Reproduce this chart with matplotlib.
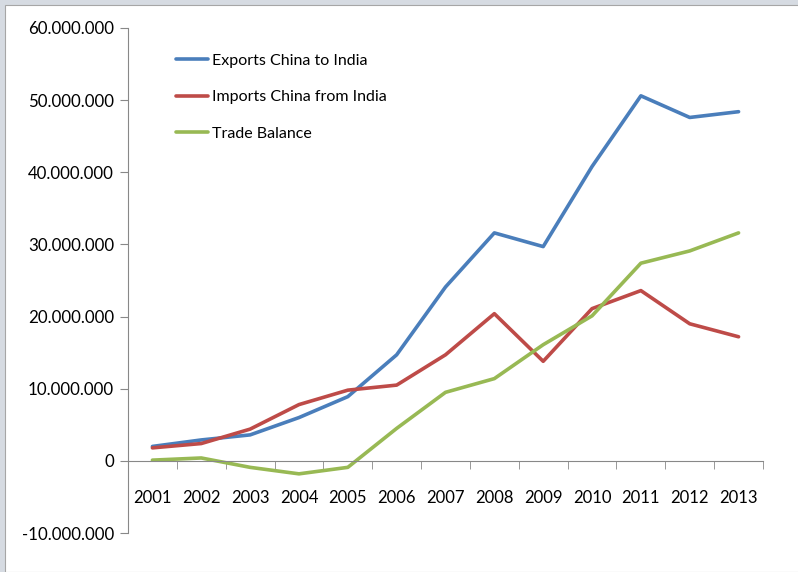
import matplotlib
matplotlib.use("Agg")
import matplotlib.pyplot as plt
from matplotlib.patches import Rectangle
from matplotlib.ticker import FixedLocator, FuncFormatter

plt.rcParams['font.family'] = ['Lato', 'DejaVu Sans']

# data (in thousands of USD)
years = ['2001', '2002', '2003', '2004', '2005', '2006', '2007',
         '2008', '2009', '2010', '2011', '2012', '2013']
exports = [2.0e6, 2.9e6, 3.6e6, 6.0e6, 8.9e6, 14.7e6, 24.1e6,
           31.6e6, 29.7e6, 40.8e6, 50.6e6, 47.6e6, 48.4e6]
imports = [1.8e6, 2.4e6, 4.4e6, 7.8e6, 9.8e6, 10.5e6, 14.7e6,
           20.4e6, 13.8e6, 21.1e6, 23.6e6, 19.0e6, 17.2e6]
balance = [0.1e6, 0.4e6, -0.9e6, -1.8e6, -0.9e6, 4.5e6, 9.5e6,
           11.4e6, 16.1e6, 20.1e6, 27.4e6, 29.1e6, 31.6e6]
series_names = ['Exports China to India', 'Imports China from India', 'Trade Balance']
colors = ['#4A7EBB', '#BE4B48', '#98B954']

fig = plt.figure(figsize=(7.98, 5.72), dpi=100, facecolor='#d6dbe2')
# white chart area with a thin frame
fig.patches.append(Rectangle((5 / 798, 0), 1, 1 - 5 / 572, transform=fig.transFigure,
                             facecolor='white', edgecolor='#a6a6a6', linewidth=0.8,
                             zorder=-10))

ax = fig.add_axes([128 / 798, 1 - 533 / 572, (763 - 128) / 798, (533 - 28) / 572])
ax.set_facecolor('none')
ax.set_zorder(5)

x = list(range(len(years)))
for vals, name, c in zip([exports, imports, balance], series_names, colors):
    ax.plot(x, vals, color=c, linewidth=2.6, label=name, solid_capstyle='round')

ax.set_xlim(-0.5, len(years) - 0.5)
ax.set_ylim(-10e6, 60e6)
ax.set_yticks([i * 10e6 for i in range(-1, 7)])
ax.yaxis.set_major_formatter(FuncFormatter(lambda v, p: f"{int(v):,}".replace(',', '.')))

for s in ['top', 'right']:
    ax.spines[s].set_visible(False)
ax.spines['bottom'].set_position(('data', 0))
ax.spines['left'].set_color('#888888')
ax.spines['bottom'].set_color('#888888')

ax.set_xticks(x)
ax.set_xticklabels(years)
ax.xaxis.set_minor_locator(FixedLocator([i - 0.5 for i in range(len(years) + 1)]))
ax.tick_params(axis='x', which='major', length=0, pad=21, labelsize=12)
ax.tick_params(axis='x', which='minor', length=6, direction='out', color='#888888')
ax.tick_params(axis='y', length=6, direction='out', color='#888888', labelsize=12.2, pad=4)

ax.legend(loc='upper left', bbox_to_anchor=(162 / 798, 1 - 39 / 572),
          bbox_transform=fig.transFigure, frameon=False, fontsize=11.5,
          handlelength=2.0, handletextpad=0.25, labelspacing=1.4)

fig.savefig('out.png', dpi=100, facecolor=fig.get_facecolor())
